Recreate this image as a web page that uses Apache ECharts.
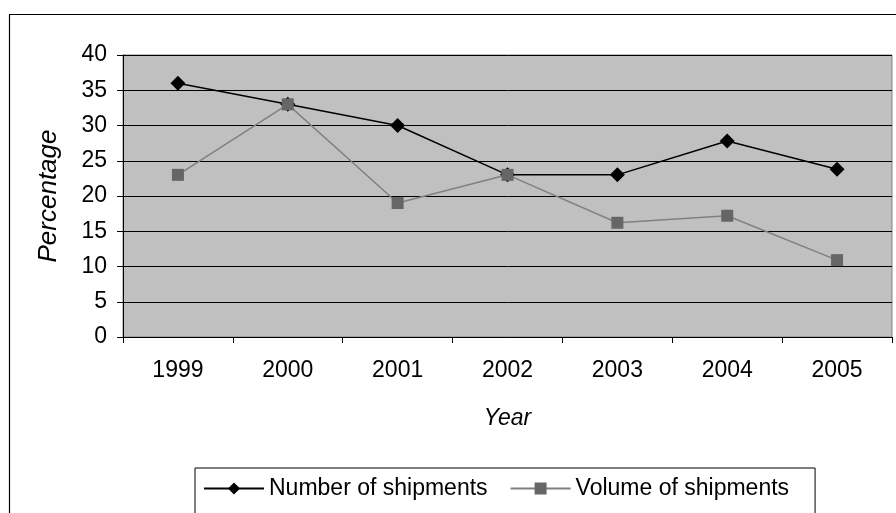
<!DOCTYPE html>
<html>
<head>
<meta charset="utf-8">
<script src="https://cdn.jsdelivr.net/npm/echarts@6/dist/echarts.min.js"></script>
<style>
  html, body { margin: 0; padding: 0; background: #fff; }
  #chart { width: 896px; height: 513px; }
</style>
</head>
<body>
<div id="chart"></div>
<script>
// Shipment shares by year
var years = ['1999', '2000', '2001', '2002', '2003', '2004', '2005'];
var numberOfShipments = [36, 33, 30, 23, 23, 27.8, 23.8];
var volumeOfShipments = [23, 33, 19, 23, 16.2, 17.2, 10.9];
var yTicks = { min: 0, max: 40, step: 5 };

var FONT = '"Liberation Sans", Arial, sans-serif';

var chart = echarts.init(document.getElementById('chart'), null, { renderer: 'canvas' });

chart.setOption({
  animation: false,
  backgroundColor: '#ffffff',
  textStyle: { fontFamily: FONT, color: '#000' },
  graphic: [{
    type: 'rect',
    silent: true,
    z: -1,
    shape: { x: 9.5, y: 14.5, width: 900, height: 520 },
    style: { fill: 'none', stroke: '#000', lineWidth: 1.2 }
  }],
  grid: {
    left: 123, right: 4, top: 55, bottom: 176,
    show: true,
    backgroundColor: '#C0C0C0',
    borderColor: '#808080',
    borderWidth: 1
  },
  legend: {
    left: 195, top: 468,
    orient: 'horizontal',
    backgroundColor: '#fff',
    borderColor: '#000',
    borderWidth: 1,
    padding: [9, 26, 40, 8],
    itemWidth: 60,
    itemHeight: 15,
    itemGap: 22,
    textStyle: { fontFamily: FONT, fontSize: 23, color: '#000' },
    data: ['Number of shipments', 'Volume of shipments']
  },
  xAxis: {
    type: 'category',
    data: years,
    boundaryGap: true,
    name: 'Year',
    nameLocation: 'middle',
    nameGap: 70,
    nameTextStyle: { fontFamily: FONT, fontSize: 23, fontStyle: 'italic', color: '#000' },
    axisLine: { show: true, lineStyle: { color: '#000', width: 1 } },
    axisTick: { show: true, length: 6, inside: false, lineStyle: { color: '#000' } },
    axisLabel: { fontFamily: FONT, fontSize: 23, color: '#000', margin: 22 },
    splitLine: { show: false }
  },
  yAxis: {
    type: 'value',
    min: yTicks.min, max: yTicks.max, interval: yTicks.step,
    name: 'Percentage',
    nameLocation: 'middle',
    nameGap: 61,
    nameRotate: 90,
    nameTextStyle: { fontFamily: FONT, fontSize: 26, fontStyle: 'italic', color: '#000' },
    axisLine: { show: true, lineStyle: { color: '#000', width: 1 } },
    axisTick: { show: true, length: 6, inside: false, lineStyle: { color: '#000' } },
    axisLabel: { fontFamily: FONT, fontSize: 23, color: '#000', margin: 16 },
    splitLine: { show: true, lineStyle: { color: '#000', width: 1 } }
  },
  series: [{
    name: 'Number of shipments',
    type: 'line',
    data: numberOfShipments,
    symbol: 'diamond',
    symbolSize: 15,
    lineStyle: { color: '#000', width: 1.5 },
    itemStyle: { color: '#000' },
    z: 3
  }, {
    name: 'Volume of shipments',
    type: 'line',
    data: volumeOfShipments,
    symbol: 'rect',
    symbolSize: 12,
    lineStyle: { color: '#808080', width: 1.5 },
    itemStyle: { color: '#666666' },
    z: 4
  }]
});
</script>
</body>
</html>
